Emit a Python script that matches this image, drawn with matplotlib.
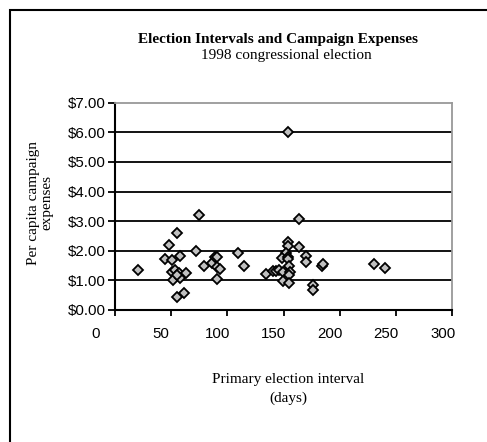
import matplotlib
matplotlib.use('Agg')
import matplotlib.pyplot as plt
from matplotlib.transforms import ScaledTranslation
from matplotlib.patches import Rectangle

# days between primary and general election, per capita spending ($)
intervals = [20.2, 44.1, 50.6, 48.5, 55.6, 57.9, 50.5, 53.4, 57.0, 62.9,
             51.9, 57.9, 54.9, 55.6, 61.6, 74.8, 72.1, 79.2, 86.5, 89.0,
             91.2, 91.1, 93.5, 91.2, 109.7, 114.6, 134.4, 140.9, 143.3, 146.3,
             149.8, 154.4, 163.8, 153.7, 153.7, 164.1, 152.2, 148.7, 153.7, 154.3,
             169.8, 170.0, 155.2, 155.8, 154.9, 149.6, 155.3, 176.5, 176.7, 184.7,
             185.6, 230.6, 240.4]
expenses = [1.35, 1.73, 1.70, 2.20, 2.59, 1.84, 1.29, 1.35, 1.26, 1.26,
            1.01, 1.07, 1.18, 0.45, 0.57, 3.21, 1.98, 1.47, 1.60, 1.78,
            1.80, 1.44, 1.40, 1.06, 1.94, 1.47, 1.21, 1.33, 1.33, 1.35,
            1.29, 6.00, 3.08, 2.28, 2.16, 2.13, 1.94, 1.75, 1.79, 1.72,
            1.81, 1.63, 1.47, 1.27, 1.18, 0.98, 0.92, 0.84, 0.66, 1.47,
            1.55, 1.55, 1.43]

x_ticks = [0, 50, 100, 150, 200, 250, 300]
y_ticks = [0, 1, 2, 3, 4, 5, 6, 7]
y_labels = ['$%.2f' % v for v in y_ticks]

serif = 'Liberation Serif'
sans = 'Liberation Sans'

fig = plt.figure(figsize=(4.87, 4.42), dpi=100)

# outer chart frame (runs off the right and bottom edges)
fig.patches.append(Rectangle((10 / 487, -0.1), 1.2, 0.1 + 432 / 442,
                             transform=fig.transFigure, fill=False,
                             edgecolor='black', lw=1.5))

ax = fig.add_axes([115 / 487, 132 / 442, 337 / 487, 207.3 / 442])

for v in y_ticks[1:-1]:
    ax.axhline(v, color='black', lw=1.3, zorder=1)

ax.plot(intervals, expenses, linestyle='none', marker='D', markersize=4.8,
        markerfacecolor='#c0c0c0', markeredgecolor='black',
        markeredgewidth=1.3, zorder=3, clip_on=False)

ax.set_xlim(0, 300)
ax.set_ylim(0, 7)
ax.set_xticks(x_ticks)
ax.set_yticks(y_ticks)
ax.set_yticklabels(y_labels)

for side in ('top', 'right'):
    ax.spines[side].set_color('#999999')
    ax.spines[side].set_linewidth(1.3)
for side in ('left', 'bottom'):
    ax.spines[side].set_color('black')
    ax.spines[side].set_linewidth(1.5)

ax.tick_params(axis='y', direction='out', length=5, width=1.3, pad=1.5,
               labelsize=10.8)
ax.tick_params(axis='x', direction='out', length=4, width=1.3, pad=8,
               labelsize=10.8)
for lbl in ax.get_xticklabels() + ax.get_yticklabels():
    lbl.set_fontfamily(sans)

# x tick labels sit a little left of their ticks
shifts = [-19, -10, -10, -10, -10, -10, -9]
for lbl, dx in zip(ax.get_xticklabels(), shifts):
    lbl.set_transform(lbl.get_transform() +
                      ScaledTranslation(dx / 100, 0, fig.dpi_scale_trans))

fig.text(278 / 487, 1 - 40 / 442, 'Election Intervals and Campaign Expenses',
         ha='center', va='center', fontsize=11, fontweight='bold',
         family=serif)
fig.text(286 / 487, 1 - 56 / 442, '1998 congressional election',
         ha='center', va='center', fontsize=11, family=serif)

fig.text(40 / 487, 1 - 203 / 442, 'Per capita campaign\nexpenses',
         ha='center', va='center', rotation=90, fontsize=11, family=serif,
         linespacing=1.0)
fig.text(288 / 487, 1 - 389 / 442, 'Primary election interval\n(days)',
         ha='center', va='center', fontsize=11, family=serif,
         linespacing=1.6)

fig.savefig('out.png', dpi=100)
